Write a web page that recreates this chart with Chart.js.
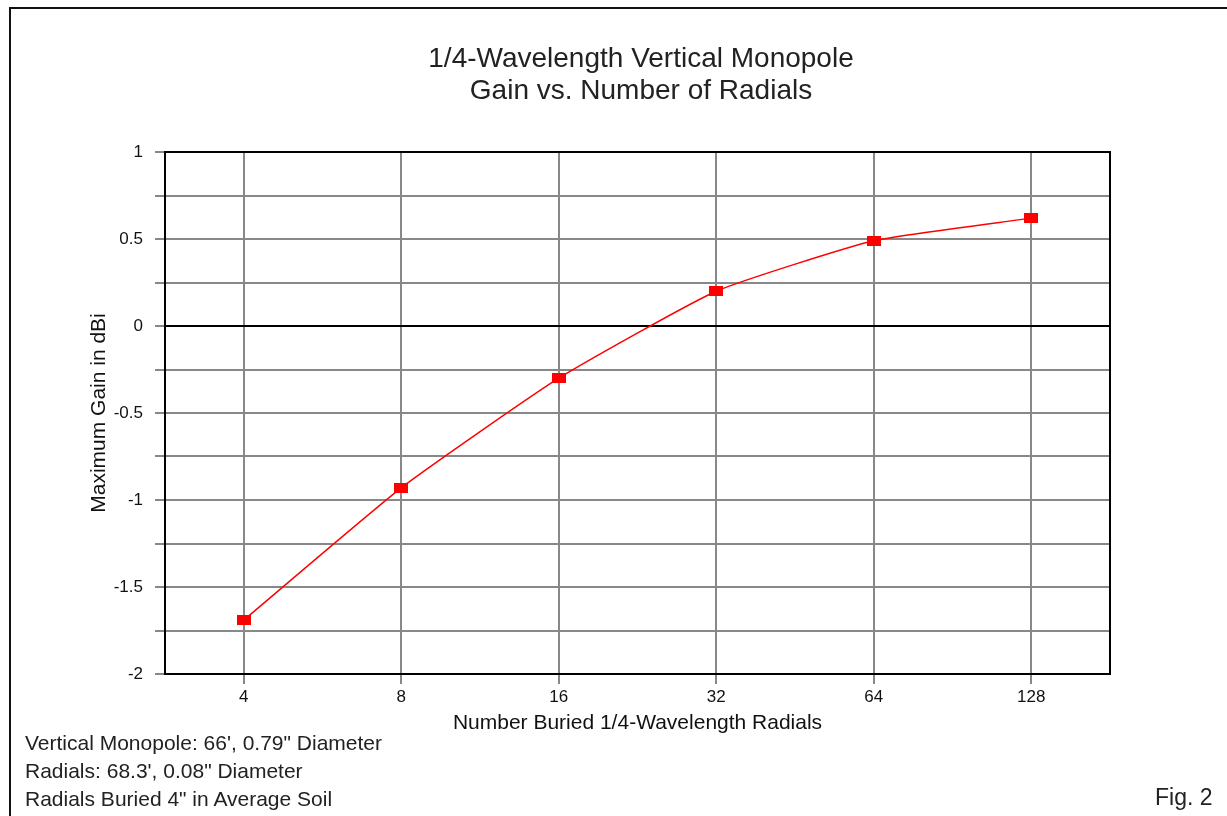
<!DOCTYPE html>
<html>
<head>
<meta charset="utf-8">
<script src="https://cdn.jsdelivr.net/npm/chart.js@4/dist/chart.umd.min.js"></script>
<style>
  html, body { margin: 0; padding: 0; background: #fff; }
  #wrap { position: relative; width: 1227px; height: 816px; overflow: hidden; }
  #frame { position: absolute; left: 9px; top: 7px; width: 1240px; height: 830px;
           border-left: 2px solid #111; border-top: 2px solid #111; }
  canvas { position: absolute; left: 0; top: 0; }
  .txt { position: absolute; font-family: "Liberation Sans", Arial, sans-serif;
         color: #222; white-space: nowrap; }
  .note { font-size: 21px; line-height: 28px; }
  #title { left: 641px; top: 42px; transform: translateX(-50%); text-align: center;
           font-size: 28px; line-height: 32px; }
</style>
</head>
<body>
<div id="wrap">
  <div id="frame"></div>
  <canvas id="chart_Gain" width="1227" height="816"></canvas>
  <div id="title" class="txt">1/4-Wavelength Vertical Monopole<br>Gain vs. Number of Radials</div>
  <div class="txt note" style="left:25px; top:729px;">Vertical Monopole: 66', 0.79" Diameter</div>
  <div class="txt note" style="left:25px; top:757px;">Radials: 68.3', 0.08" Diameter</div>
  <div class="txt note" style="left:25px; top:785px;">Radials Buried 4" in Average Soil</div>
  <div class="txt note" style="left:1155px; top:783px; font-size:23px;">Fig. 2</div>
</div>
<script>
  var radials = ["4", "8", "16", "32", "64", "128"];
  var gainDbi = [-1.69, -0.93, -0.30, 0.20, 0.49, 0.62];
  var yMin = -2;
  var yMax = 1;

  // red rectangle marker like the original plot
  function makeMarker() {
    var c = document.createElement("canvas");
    c.width = 14;
    c.height = 10;
    var g = c.getContext("2d");
    g.fillStyle = "#ff0000";
    g.fillRect(0, 0, 14, 10);
    return c;
  }

  var framePlugin = {
    id: "plotFrame",
    afterDatasetsDraw: function (chart) {
      var a = chart.chartArea;
      var ctx = chart.ctx;
      ctx.save();
      ctx.strokeStyle = "#000";
      ctx.lineWidth = 2;
      ctx.strokeRect(a.left, a.top, a.right - a.left, a.bottom - a.top);
      ctx.restore();
    }
  };

  function createGainChart() {
    console.log("createGainChart");
    var marker = makeMarker();
    new Chart(document.getElementById("chart_Gain"), {
      type: 'line',
      data: {
        labels: radials,
        datasets: [{
          label: "Maximum Gain",
          data: gainDbi,
          borderColor: "#ff0000",
          borderWidth: 1.5,
          tension: 0.15,
          pointStyle: marker,
          pointRadius: 6,
          pointHoverRadius: 6
        }]
      },
      options: {
        responsive: false,
        animation: false,
        layout: { padding: { left: 30, right: 117, top: 152, bottom: 80 } },
        plugins: {
          legend: { display: false },
          tooltip: { enabled: false },
          title: { display: false }
        },
        scales: {
          x: {
            type: 'category',
            offset: true,
            afterFit: function (s) { s.height = 62; },
            grid: { offset: false, color: '#888', lineWidth: 2, tickLength: 10, tickColor: '#888' },
            border: { display: false },
            ticks: { color: '#111', padding: 3, font: { family: 'Liberation Sans', size: 17 } },
            title: {
              display: true,
              text: 'Number Buried 1/4-Wavelength Radials',
              color: '#111',
              font: { family: 'Liberation Sans', size: 21 },
              padding: { top: 5, bottom: 0 }
            }
          },
          y: {
            min: yMin,
            max: yMax,
            afterFit: function (s) { s.width = 135; },
            grid: {
              color: function (c) { return c.tick && c.tick.value === 0 ? '#000' : '#888'; },
              lineWidth: 2,
              tickLength: 10,
              tickColor: '#888'
            },
            border: { display: false },
            ticks: {
              stepSize: 0.25,
              padding: 12,
              color: '#111',
              font: { family: 'Liberation Sans', size: 17 },
              callback: function (v) { return Math.abs(v * 2 - Math.round(v * 2)) < 1e-9 ? String(v) : ''; }
            },
            title: {
              display: true,
              text: 'Maximum Gain in dBi',
              color: '#111',
              font: { family: 'Liberation Sans', size: 21 },
              padding: { top: 57, bottom: 0 }
            }
          }
        }
      },
      plugins: [framePlugin]
    });
  }

  createGainChart();
</script>
</body>
</html>
